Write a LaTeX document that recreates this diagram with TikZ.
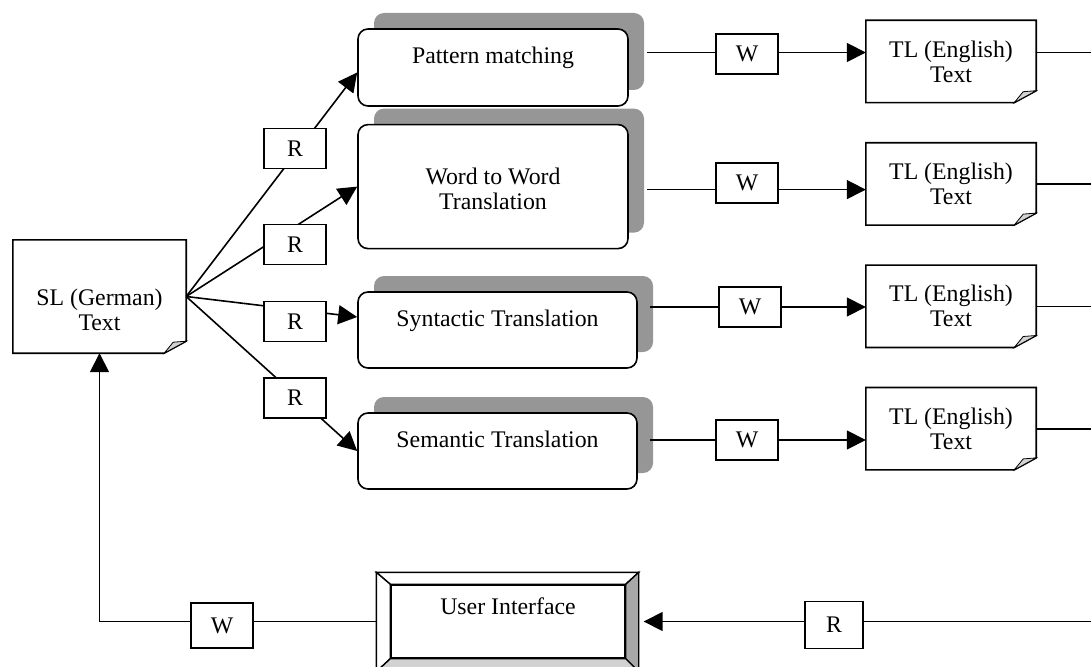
\documentclass[tikz,border=0pt]{standalone}
\usepackage{fontspec}
\setmainfont{Liberation Serif}
\usetikzlibrary{arrows.meta,positioning,shadows}
\definecolor{shadowgray}{RGB}{150,150,150}
\definecolor{foldgray}{RGB}{210,210,210}
\definecolor{bevelgray}{RGB}{168,168,168}
\tikzset{
    %Define standard arrow tip
    >={Triangle[length=19pt,width=19pt]},
    %Define style for the text documents (folded corner)
    note/.style={
           rectangle,
           align=center,
           append after command={
             \pgfextra{
               \filldraw[line width=1.6pt, fill=white]
                 (\tikzlastnode.north west) -- (\tikzlastnode.north east)
                 -- ([yshift=12pt]\tikzlastnode.south east)
                 -- ([xshift=-22pt]\tikzlastnode.south east)
                 -- (\tikzlastnode.south west) -- cycle;
               \filldraw[fill=foldgray, line width=0.8pt]
                 ([xshift=-22pt]\tikzlastnode.south east)
                 -- ([yshift=12pt]\tikzlastnode.south east)
                 -- ([xshift=-13pt,yshift=11pt]\tikzlastnode.south east)
                 -- cycle;}}},
    %Define style for the translation steps
    process/.style={
           rectangle,
           rounded corners=10pt,
           draw=black, line width=1.6pt,
           fill=white,
           align=center,
           drop shadow={shadow xshift=16pt, shadow yshift=16pt,
                        fill=shadowgray, opacity=1}},
    raised/.style={text depth=24pt},
    %Define style for the read and write boxes
    rw/.style={
           rectangle,
           draw=black, line width=1.4pt,
           fill=white,
           minimum width=62pt,
           minimum height=40pt},
    bevel/.style={draw=black, line width=1.4pt},
    % Define arrow style
    arrow/.style={
           ->,
           line width=1.6pt},
    line/.style={
           line width=1.6pt},
}
\begin{document}
\begin{tikzpicture}[x=1pt,y=-1pt,font=\fontsize{23.8}{25}\selectfont]
\useasboundingbox (0,0) rectangle (1091,666);
\clip (0,0) rectangle (1091,666);
% documents and steps
\node[note, text height=68pt, minimum width=173pt, minimum height=113pt] (sl) at (99.5,296.5) {SL (German)\\Text};
\node[process, raised, minimum width=270pt, minimum height=77pt] (pm) at (493,67.5) {Pattern matching};
\node[process, text height=47pt, minimum width=270pt, minimum height=124pt, below=17pt of pm] (w2w) {Word to Word\\Translation};
\node[process, raised, minimum width=279pt, minimum height=76pt] (syn) at (497.5,330) {Syntactic Translation};
\node[process, raised, minimum width=279pt, minimum height=76pt] (sem) at (497.5,451) {Semantic Translation};
\node[note, minimum width=170pt, minimum height=82pt] (tl1) at (951,61.5) {TL (English)\\Text};
\node[note, minimum width=170pt, minimum height=82pt, below=40pt of tl1] (tl2) {TL (English)\\Text};
\node[note, minimum width=170pt, minimum height=82pt, below=40pt of tl2] (tl3) {TL (English)\\Text};
\node[note, minimum width=170pt, minimum height=82pt, below=40pt of tl3] (tl4) {TL (English)\\Text};
\node[rectangle, draw=black, line width=1.4pt, fill=white, text depth=30pt,
      minimum width=234pt, minimum height=73pt] (ui) at (508,621.5) {User Interface};
% bevelled frame of the interface
\filldraw[bevel, fill=white] ([xshift=-14pt,yshift=12pt]ui.north west) -- ([xshift=13pt,yshift=12pt]ui.north east)
    -- (ui.north east) -- (ui.north west) -- cycle;
\filldraw[bevel, fill=white] ([xshift=-14pt,yshift=12pt]ui.north west) -- (ui.north west)
    -- (ui.south west) -- ([xshift=-14pt,yshift=-13pt]ui.south west) -- cycle;
\filldraw[bevel, fill=bevelgray] ([xshift=13pt,yshift=12pt]ui.north east) -- ([xshift=13pt,yshift=-13pt]ui.south east)
    -- (ui.south east) -- (ui.north east) -- cycle;
\filldraw[bevel, fill=foldgray] ([xshift=-14pt,yshift=-13pt]ui.south west) -- (ui.south west)
    -- (ui.south east) -- ([xshift=13pt,yshift=-13pt]ui.south east) -- cycle;
% reading the source text
\draw[arrow] (sl.east) -- ([yshift=-5pt]pm.west);
\draw[arrow] (sl.east) -- (w2w.west);
\draw[arrow] (sl.east) -- ([yshift=13pt]syn.west);
\draw[arrow] (sl.east) -- (sem.west);
\node[rw] (r1) at (295,148.5) {R};
\node[rw] (r2) at (295,244.5) {R};
\node[rw] (r3) at (295,321.5) {R};
\node[rw] (r4) at (295,398) {R};
% writing the target texts
\coordinate (bus) at (1110,0);
\coordinate (pm out)  at ([xshift=18pt,yshift=15pt]pm.east);
\coordinate (w2w out) at ([xshift=18pt,yshift=-3pt]w2w.east);
\coordinate (syn out) at ([xshift=12pt,yshift=23pt]syn.east);
\coordinate (sem out) at ([xshift=12pt,yshift=11pt]sem.east);
\draw[arrow] (pm out) -- (pm out -| tl1.west);
\draw[arrow] (w2w out) -- (w2w out -| tl2.west);
\draw[arrow] (syn out) -- (syn out -| tl3.west);
\draw[arrow] (sem out) -- (sem out -| tl4.west);
\node[rw] (w1) at (747,54) {W};
\node[rw] (w2) at (747,183) {W};
\node[rw] (w3) at (750,307) {W};
\node[rw] (w4) at (747,440) {W};
\coordinate (tl1 out) at ([yshift=9pt]tl1.east);
\draw[line] (tl1 out) -- (tl1 out -| bus);
\draw[line] (tl2.east) -- (tl2.east -| bus);
\draw[line] (tl3.east) -- (tl3.east -| bus);
\draw[line] (tl4.east) -- (tl4.east -| bus);
% back to the user
\draw[arrow] (ui.east -| bus) -- ([xshift=18pt]ui.east);
\draw[arrow] ([xshift=-14pt]ui.west) -| (sl.south);
\node[rw, minimum width=58pt, minimum height=47pt] (r5) at (834,625) {R};
\node[rw, minimum height=45pt] (w5) at (222,625.5) {W};
\end{tikzpicture}
\end{document}
